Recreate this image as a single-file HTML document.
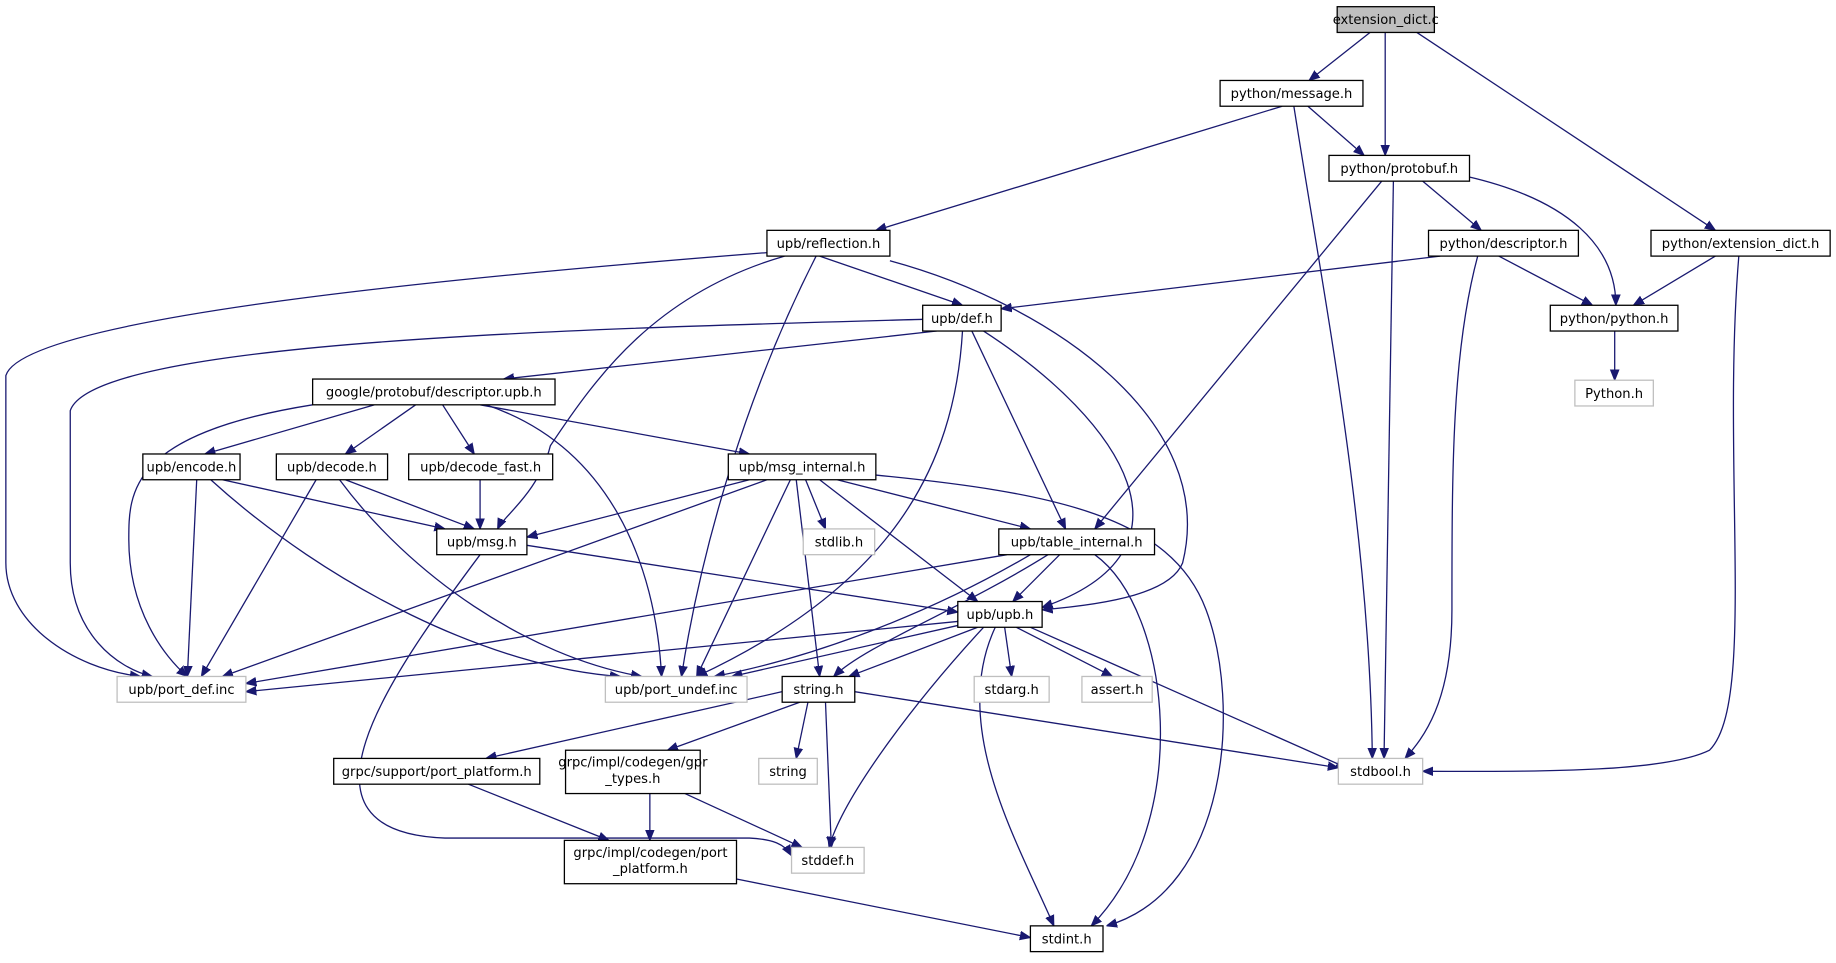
<!DOCTYPE html>
<html><head><meta charset="utf-8"><style>
html,body{margin:0;padding:0;background:#fff;}
svg{display:block;}
text{font-family:"DejaVu Sans","Liberation Sans",sans-serif;font-size:11.2px;fill:#000;text-anchor:middle;}
.n{fill:#fff;stroke:#000;stroke-width:1.1;}
.g{fill:#fff;stroke:#bfbfbf;stroke-width:1.1;}
.r{fill:#bfbfbf;stroke:#000;stroke-width:1.1;}
path{fill:none;stroke:#191970;stroke-width:1.1;marker-end:url(#a);}
</style></head><body>
<svg width="1836" height="963" viewBox="0 0 1568 821" xmlns="http://www.w3.org/2000/svg">
<defs><marker id="a" viewBox="0 0 10 10" refX="10" refY="5" markerWidth="9" markerHeight="9" markerUnits="userSpaceOnUse" orient="auto"><polygon points="0,1 10,5 0,9" fill="#191970" stroke="#191970"/></marker></defs>
<g>
<path d="M1170,27 L1118,68"/>
<path d="M1183,27 L1183,132"/>
<path d="M1210,27 L1465,196"/>
<path d="M1095,90 L748,196"/>
<path d="M1117,90 L1165,132"/>
<path d="M1105,90 C1130,250 1170,450 1172,647"/>
<path d="M1253,150 C1340,170 1380,210 1380,260"/>
<path d="M1215,154 L1265,196"/>
<path d="M1190,154 L1182,647"/>
<path d="M1180,154 L935,451"/>
<path d="M1230,218 L855,263"/>
<path d="M1280,218 L1360,260"/>
<path d="M1262,218 C1240,300 1240,400 1240,520 C1240,600 1215,630 1200,647"/>
<path d="M1465,218 L1395,260"/>
<path d="M1485,218 C1470,400 1500,600 1460,640 C1420,660 1300,658 1215,658"/>
<path d="M1379,282 L1379,324"/>
<path d="M700,218 L822,260"/>
<path d="M670,218 C560,250 510,320 470,380 C460,420 430,440 425,451"/>
<path d="M697,218 C640,330 600,460 582,577"/>
<path d="M760,222 C900,260 1040,360 1010,480 C1000,505 950,515 890,520"/>
<path d="M655,215 C400,235 20,270 5,320 L5,480 C5,530 60,570 120,577"/>
<path d="M788,272 C500,280 80,290 60,350 L60,480 C60,540 100,570 130,577"/>
<path d="M800,282 L430,323"/>
<path d="M822,282 C815,400 760,500 595,577"/>
<path d="M830,282 L910,451"/>
<path d="M840,282 C960,360 1030,470 890,518"/>
<path d="M267,345 C110,370 110,420 110,460 C110,520 140,560 160,577"/>
<path d="M320,345 L175,387"/>
<path d="M355,345 L295,387"/>
<path d="M378,345 L405,387"/>
<path d="M410,345 L640,387"/>
<path d="M415,345 C520,380 560,480 565,577"/>
<path d="M168,409 L160,577"/>
<path d="M190,409 L380,451"/>
<path d="M180,409 C280,500 420,570 530,577"/>
<path d="M270,409 L172,577"/>
<path d="M295,409 L405,451"/>
<path d="M290,409 C350,490 450,560 548,577"/>
<path d="M410,409 L410,451"/>
<path d="M640,409 L450,458"/>
<path d="M655,409 L190,577"/>
<path d="M675,409 L595,577"/>
<path d="M680,409 L700,577"/>
<path d="M688,409 L705,451"/>
<path d="M700,409 L835,513"/>
<path d="M715,409 L880,451"/>
<path d="M748,405 C900,420 1000,440 1030,520 C1060,600 1050,760 945,790"/>
<path d="M410,473 C330,580 240,710 380,715 L640,715 C660,716 670,720 676,730"/>
<path d="M450,465 L818,522"/>
<path d="M860,473 L210,583"/>
<path d="M880,473 C800,520 700,560 610,577"/>
<path d="M895,473 C820,520 740,550 712,577"/>
<path d="M905,473 L865,513"/>
<path d="M935,473 C1000,520 1020,700 932,790"/>
<path d="M818,530 L210,590"/>
<path d="M820,533 L625,577"/>
<path d="M835,535 L725,577"/>
<path d="M840,535 C780,600 720,680 708,723"/>
<path d="M850,535 C810,620 870,720 900,790"/>
<path d="M858,535 L864,577"/>
<path d="M868,535 L950,577"/>
<path d="M880,535 L1150,655"/>
<path d="M668,590 L415,647"/>
<path d="M683,599 L570,640"/>
<path d="M690,599 L680,647"/>
<path d="M705,599 L710,723"/>
<path d="M730,590 L1143,655"/>
<path d="M400,669 L520,717"/>
<path d="M555,677 L555,717"/>
<path d="M585,677 L685,723"/>
<path d="M629,750 L880,800"/>
</g>
<g>
<rect class="r" x="1142" y="5" width="83" height="22"/><text x="1183.5" y="20">extension_dict.c</text>
<rect class="n" x="1042" y="68" width="122" height="22"/><text x="1103" y="83">python/message.h</text>
<rect class="n" x="1135" y="132" width="120" height="22"/><text x="1195" y="147">python/protobuf.h</text>
<rect class="n" x="1220" y="196" width="128" height="22"/><text x="1284" y="211">python/descriptor.h</text>
<rect class="n" x="1410" y="196" width="153" height="22"/><text x="1486.5" y="211">python/extension_dict.h</text>
<rect class="n" x="1324" y="260" width="109" height="22"/><text x="1378.5" y="275">python/python.h</text>
<rect class="g" x="1345" y="324" width="67" height="22"/><text x="1378.5" y="339">Python.h</text>
<rect class="n" x="655" y="196" width="105" height="22"/><text x="707.5" y="211">upb/reflection.h</text>
<rect class="n" x="788" y="260" width="67" height="22"/><text x="821.5" y="275">upb/def.h</text>
<rect class="n" x="267" y="323" width="207" height="22"/><text x="370.5" y="338">google/protobuf/descriptor.upb.h</text>
<rect class="n" x="122" y="387" width="83" height="22"/><text x="163.5" y="402">upb/encode.h</text>
<rect class="n" x="236" y="387" width="95" height="22"/><text x="283.5" y="402">upb/decode.h</text>
<rect class="n" x="349" y="387" width="123" height="22"/><text x="410.5" y="402">upb/decode_fast.h</text>
<rect class="n" x="622" y="387" width="126" height="22"/><text x="685" y="402">upb/msg_internal.h</text>
<rect class="n" x="373" y="451" width="77" height="22"/><text x="411.5" y="466">upb/msg.h</text>
<rect class="g" x="686" y="451" width="61" height="22"/><text x="716.5" y="466">stdlib.h</text>
<rect class="n" x="853" y="451" width="133" height="22"/><text x="919.5" y="466">upb/table_internal.h</text>
<rect class="n" x="818" y="513" width="72" height="22"/><text x="854" y="528">upb/upb.h</text>
<rect class="g" x="100" y="577" width="110" height="22"/><text x="155" y="592">upb/port_def.inc</text>
<rect class="g" x="517" y="577" width="121" height="22"/><text x="577.5" y="592">upb/port_undef.inc</text>
<rect class="n" x="668" y="577" width="62" height="22"/><text x="699" y="592">string.h</text>
<rect class="g" x="832" y="577" width="64" height="22"/><text x="864" y="592">stdarg.h</text>
<rect class="g" x="924" y="577" width="60" height="22"/><text x="954" y="592">assert.h</text>
<rect class="g" x="1143" y="647" width="72" height="22"/><text x="1179" y="662">stdbool.h</text>
<rect class="n" x="285" y="647" width="176" height="22"/><text x="373" y="662">grpc/support/port_platform.h</text>
<rect class="n" x="483" y="640" width="115" height="37"/><text x="540.5" y="654">grpc/impl/codegen/gpr</text><text x="540.5" y="668">_types.h</text>
<rect class="g" x="648" y="647" width="50" height="22"/><text x="673" y="662">string</text>
<rect class="n" x="482" y="717" width="147" height="37"/><text x="555.5" y="731">grpc/impl/codegen/port</text><text x="555.5" y="745">_platform.h</text>
<rect class="g" x="676" y="723" width="62" height="22"/><text x="707" y="738">stddef.h</text>
<rect class="n" x="880" y="790" width="62" height="22"/><text x="911" y="805">stdint.h</text>
</g>
</svg>
</body></html>
